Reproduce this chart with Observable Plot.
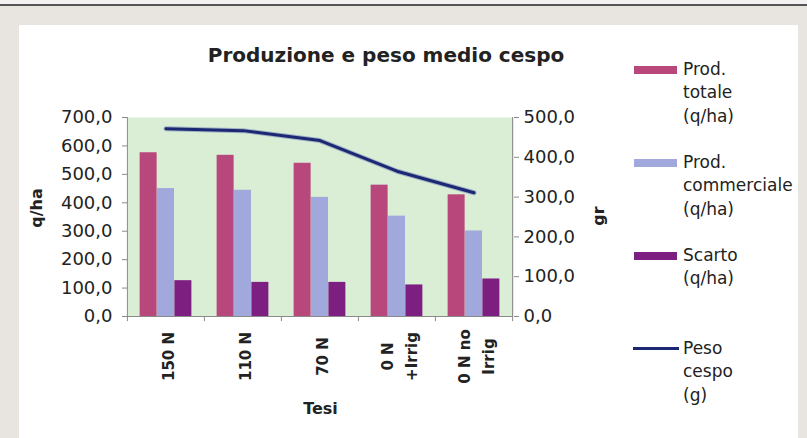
<!DOCTYPE html>
<html>
<head>
<meta charset="utf-8">
<script src="https://cdn.jsdelivr.net/npm/d3@7"></script>
<script src="https://cdn.jsdelivr.net/npm/@observablehq/plot@0.6"></script>
<style>
  body { margin:0; width:807px; height:438px; background:#e8e4e0; position:relative; overflow:hidden; font-family:"DejaVu Sans", sans-serif; color:#222; }
  .abs { position:absolute; }
  #topband { left:0; top:0; width:807px; height:4px; background:#f3f1ef; }
  #topline { left:0; top:4px; width:807px; height:1.5px; background:#555; }
  #panel { left:19px; top:25px; width:779px; height:413px; background:#fff; }
  #chart { left:0; top:0; }
  #title { left:136px; width:500px; top:45px; text-align:center; font-weight:bold; font-size:20px; line-height:20px; color:#222; white-space:nowrap; }
  .leg { left:683px; font-size:17px; line-height:23.5px; color:#222; white-space:pre; }
  .sw { left:634px; width:43px; height:8px; }
</style>
</head>
<body>
<div id="topband" class="abs"></div>
<div id="topline" class="abs"></div>
<div id="panel" class="abs"></div>
<div id="chart" class="abs"></div>
<div id="title" class="abs"></div>
<div id="legend"></div>
<script>
// ---- data ----
const categories = ["150 N", "110 N", "70 N", "0 N\n+Irrig", "0 N no\nIrrig"];
const prodTotale = [576, 567, 539, 462, 428];
const prodCommerciale = [450, 444, 419, 353, 301];
const scarto = [126, 120, 120, 111, 132];
const pesoCespo = [472, 467, 442, 365, 311];
const leftTicks = [0, 100, 200, 300, 400, 500, 600, 700];
const rightTicks = [0, 100, 200, 300, 400, 500];
const seriesNames = ["Prod.\ntotale\n(q/ha)", "Prod.\ncommerciale\n(q/ha)", "Scarto\n(q/ha)", "Peso\ncespo\n(g)"];
const titleText = "Produzione e peso medio cespo";

// ---- styles ----
const colTot = "#b8487c", colCom = "#a1a9dc", colSc = "#7c1f80", colLine = "#1c2874";
const W = 807, H = 438;
const mL = 127, mR = W - 513, mT = 117, mB = H - 316;
const step = (W - mL - mR) / categories.length;
const pIn = 0.775;
const bw = step * (1 - pIn);
const ratio = 700 / 500;
const fmt = v => v.toFixed(1).replace(".", ",");
const axisCol = "#8a8a8a";

const data = categories.map((c, i) => ({c, tot: prodTotale[i], com: prodCommerciale[i], sc: scarto[i], peso: pesoCespo[i]}));

const chart = Plot.plot({
  width: W, height: H,
  marginLeft: mL, marginRight: mR, marginTop: mT, marginBottom: mB,
  style: {background: "transparent", fontFamily: "DejaVu Sans", fontSize: "18px", color: "#222", overflow: "visible"},
  x: {domain: categories, paddingInner: pIn, paddingOuter: pIn / 2, axis: null},
  y: {domain: [0, 700], axis: null},
  marks: [
    Plot.frame({fill: "#daeed6", stroke: "none"}),
    Plot.barY(data, {x: "c", y: "tot", fill: colTot, dx: -bw}),
    Plot.barY(data, {x: "c", y: "com", fill: colCom}),
    Plot.barY(data, {x: "c", y: "sc", fill: colSc, dx: bw}),
    Plot.ruleY([0], {stroke: axisCol}),
    Plot.ruleX([categories[0]], {stroke: axisCol, dx: -step / 2}),
    Plot.ruleX([categories[categories.length - 1]], {stroke: axisCol, dx: step / 2}),
    Plot.ruleX(categories, {x: d => d, y1: 0, y2: -18, stroke: axisCol, dx: -step / 2}),
    Plot.ruleX([categories[categories.length - 1]], {x: d => d, y1: 0, y2: -18, stroke: axisCol, dx: step / 2}),
    Plot.line(data, {x: "c", y: d => d.peso * ratio, stroke: "#5a68ad", strokeWidth: 5, strokeOpacity: 0.45, curve: "linear"}),
    Plot.line(data, {x: "c", y: d => d.peso * ratio, stroke: colLine, strokeWidth: 3, curve: "linear"}),
    Plot.axisY({ticks: leftTicks, tickFormat: fmt, tickSize: 5, tickPadding: 10, stroke: axisCol, label: null, fontSize: 18}),
    Plot.axisY({anchor: "right", ticks: rightTicks.map(v => v * ratio), tickFormat: d => fmt(d / ratio), tickSize: 5, tickPadding: 5, stroke: axisCol, label: null, fontSize: 18}),
    Plot.text(categories, {x: d => d, text: d => d, frameAnchor: "bottom", dy: 40, rotate: -90, textAnchor: "middle", lineAnchor: "middle", lineHeight: 1.6, fontSize: 15, fontWeight: "bold", fill: "#222"}),
    Plot.text(["q/ha"], {frameAnchor: "left", dx: -(mL - 36), dy: -9, rotate: -90, textAnchor: "middle", lineAnchor: "middle", fontSize: 16, fontWeight: "bold", fill: "#222"}),
    Plot.text(["gr"], {frameAnchor: "right", dx: 85, dy: -1, rotate: -90, textAnchor: "middle", lineAnchor: "middle", fontSize: 16, fontWeight: "bold", fill: "#222"}),
    Plot.text(["Tesi"], {frameAnchor: "bottom", dy: 92, textAnchor: "middle", lineAnchor: "middle", fontSize: 16, fontWeight: "bold", fill: "#222"})
  ]
});
document.getElementById("chart").appendChild(chart);
document.getElementById("title").textContent = titleText;

// ---- legend ----
const legend = document.getElementById("legend");
const centers = [69.5, 162.5, 255.5, 348.5];
const swCols = [colTot, colCom, colSc, null];
seriesNames.forEach((name, i) => {
  const t = document.createElement("div");
  t.className = "abs leg";
  t.style.top = (centers[i] - 11.75) + "px";
  t.textContent = name;
  legend.appendChild(t);
  const s = document.createElement("div");
  s.className = "abs sw";
  if (swCols[i]) {
    s.style.top = (centers[i] - 4) + "px";
    s.style.background = swCols[i];
  } else {
    s.style.top = (centers[i] - 1.25) + "px";
    s.style.height = "2.5px";
    s.style.left = "633px";
    s.style.width = "46px";
    s.style.background = colLine;
  }
  legend.appendChild(s);
});
</script>
</body>
</html>
